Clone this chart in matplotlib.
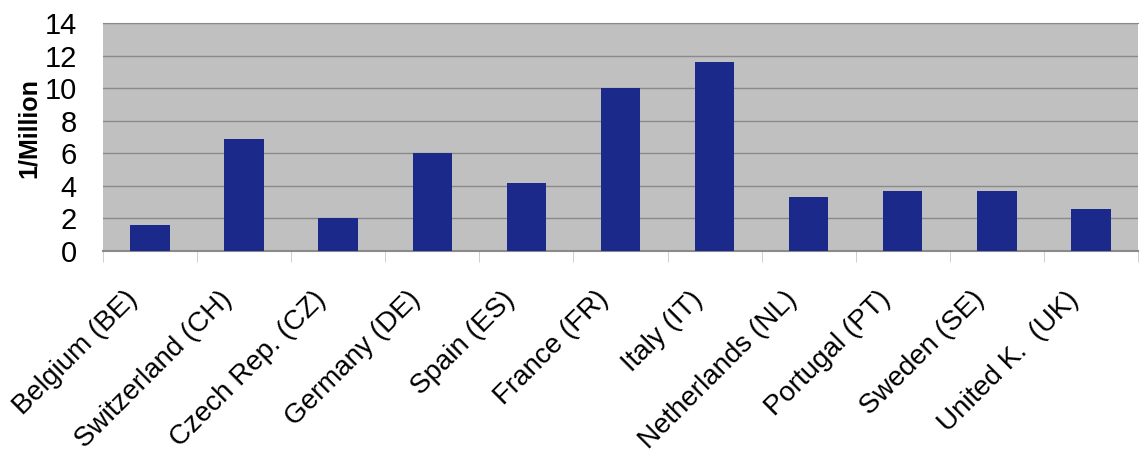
import numpy as np
import matplotlib.pyplot as plt
from matplotlib.transforms import ScaledTranslation

plt.rcParams['font.family'] = ['Liberation Sans', 'DejaVu Sans']

countries = ['Belgium (BE)', 'Switzerland (CH)', 'Czech Rep. (CZ)', 'Germany (DE)',
             'Spain (ES)', 'France (FR)', 'Italy (IT)', 'Netherlands (NL)',
             'Portugal (PT)', 'Sweden (SE)', 'United K.  (UK)']
values = [1.6, 6.9, 2.0, 6.0, 4.2, 10.0, 11.6, 3.3, 3.7, 3.7, 2.6]

fig = plt.figure(figsize=(11.41, 4.68), dpi=100)
ax = fig.add_axes([0.0903, 0.4637, 0.907, 0.4873])

x = np.arange(len(countries))
ax.bar(x, values, width=0.42, color='#1b2a8a', zorder=3)

ax.set_facecolor('#c0c0c0')
ax.set_xlim(-0.5, len(countries) - 0.5)
ax.set_ylim(0, 14)
ax.set_yticks(range(0, 15, 2))
ax.yaxis.grid(True, color='#8a8a8a', linewidth=1, zorder=0)
ax.tick_params(axis='y', length=0, labelsize=21, pad=19)

# category separators below the axis
ax.set_xticks(x)
ax.set_xticks(np.arange(-0.5, len(countries), 1), minor=True)
ax.tick_params(axis='x', which='major', length=0, pad=32)
ax.tick_params(axis='x', which='minor', length=8, color='#c8c8c8', direction='out')
ax.set_xticklabels(countries, rotation=45, ha='right', va='center',
                   rotation_mode='anchor', fontsize=20)
# nudge labels a bit to the left
shift = ScaledTranslation(-16 / 100, 0, fig.dpi_scale_trans)
for lbl in ax.get_xticklabels():
    lbl.set_transform(lbl.get_transform() + shift)

for side in ['left', 'right']:
    ax.spines[side].set_visible(False)
ax.spines['top'].set_color('#8a8a8a')
ax.spines['bottom'].set_color('#8a8a8a')
ax.spines['bottom'].set_linewidth(1.5)

ax.set_ylabel('1/Million', fontsize=18, fontweight='bold')
ax.yaxis.set_label_coords(-0.06, 0.54)

fig.savefig('out.png', dpi=100)
